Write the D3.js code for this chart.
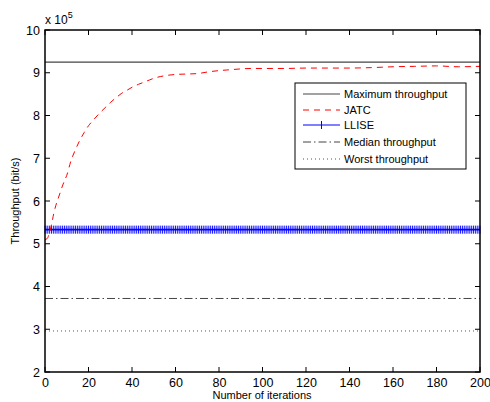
<!DOCTYPE html>
<html><head><meta charset="utf-8">
<script src="https://cdn.jsdelivr.net/npm/d3@7"></script>
<style>body{margin:0;background:#fff}svg{display:block}text{font-family:"Liberation Sans",Arial,sans-serif}</style>
</head><body><svg id="c" width="490" height="402"></svg>
<script>
const xTicks=[0,20,40,60,80,100,120,140,160,180,200];
const yTicks=[2,3,4,5,6,7,8,9,10];
const maxThroughput=9.25;
const llise=5.33;
const medianThroughput=3.72;
const worstThroughput=2.96;
const jatcIter=[0,1,2,3,4,5,6,7,8,9,10,12,14,16,18,20,22,25,28,30,33,35,38,40,43,45,48,50,53,55,58,60,65,70,75,80,85,90,95,100,110,120,130,140,150,160,170,180,190,200];
const jatcVal=[5.1,5.12,5.25,5.45,5.7,5.9,6.05,6.2,6.35,6.48,6.6,6.95,7.2,7.42,7.6,7.76,7.88,8.05,8.2,8.3,8.43,8.51,8.6,8.66,8.73,8.77,8.83,8.87,8.91,8.93,8.95,8.96,8.97,8.98,9.02,9.05,9.07,9.09,9.1,9.1,9.1,9.11,9.11,9.11,9.12,9.14,9.15,9.16,9.14,9.15];
const legendNames=["Maximum throughput","JATC","LLISE","Median throughput","Worst throughput"];

const svg=d3.select("#c");
const L=45,R=480,T=30,B=372;
const x=d3.scaleLinear().domain([0,200]).range([L,R]);
const y=d3.scaleLinear().domain([2,10]).range([B,T]);

// axes
const gx=svg.append("g").attr("transform",`translate(0,${B})`).call(d3.axisBottom(x).tickValues(xTicks).tickSize(0).tickPadding(6));
gx.select(".domain").remove();
gx.selectAll("text").attr("font-size",12.5).attr("fill","#000").attr("font-family","Liberation Sans,Arial");
const gy=svg.append("g").attr("transform",`translate(${L},0)`).call(d3.axisLeft(y).tickValues(yTicks).tickSize(0).tickPadding(5));
gy.select(".domain").remove();
gy.selectAll("text").attr("font-size",12.5).attr("fill","#000").attr("font-family","Liberation Sans,Arial");

// inner ticks
const tk=svg.append("g").attr("stroke","#000").attr("stroke-width",1);
xTicks.forEach(v=>{tk.append("line").attr("x1",x(v)).attr("x2",x(v)).attr("y1",B).attr("y2",B-5);
 tk.append("line").attr("x1",x(v)).attr("x2",x(v)).attr("y1",T).attr("y2",T+5);});
yTicks.forEach(v=>{tk.append("line").attr("y1",y(v)).attr("y2",y(v)).attr("x1",L).attr("x2",L+5);
 tk.append("line").attr("y1",y(v)).attr("y2",y(v)).attr("x1",R).attr("x2",R-5);});

const plot=svg.append("g");
const hline=(v,col,dash,w)=>plot.append("line").attr("x1",x(0)).attr("x2",x(200)).attr("y1",y(v)).attr("y2",y(v)).attr("stroke",col).attr("stroke-width",w).attr("stroke-dasharray",dash);
hline(maxThroughput,"#444",null,1.2);
hline(medianThroughput,"#444","8,3,1.5,3",1);
hline(worstThroughput,"#555","1,3",1);

// LLISE
hline(llise,"#0000ff",null,1.6);
const iters=d3.range(0,201);
plot.append("g").selectAll("line").data(iters).join("line")
 .attr("x1",d=>x(d)).attr("x2",d=>x(d)).attr("y1",y(llise)-4).attr("y2",y(llise)+4)
 .attr("stroke","#0000ff").attr("stroke-width",0.9);
plot.append("rect").attr("x",x(0)).attr("width",x(200)-x(0)).attr("y",y(llise)-4).attr("height",8).attr("fill","#0000ff").attr("opacity",0.15);

// JATC
const line=d3.line().x((d,i)=>x(jatcIter[i])).y(d=>y(d)).curve(d3.curveMonotoneX);
plot.append("path").attr("d",line(jatcVal)).attr("fill","none").attr("stroke","#ff0000").attr("stroke-width",1).attr("stroke-dasharray","6,5");

// frame
svg.append("rect").attr("x",L).attr("y",T).attr("width",R-L).attr("height",B-T).attr("fill","none").attr("stroke","#000").attr("stroke-width",1.5);

// exponent
const ex=svg.append("text").attr("x",45).attr("y",24).attr("font-size",12);
ex.append("tspan").text("x 10");
ex.append("tspan").attr("dy",-6).attr("font-size",9).text("5");

// axis labels
svg.append("text").attr("x",262).attr("y",399).attr("text-anchor","middle").attr("font-size",11).text("Number of iterations");
svg.append("text").attr("transform","translate(19,201) rotate(-90)").attr("text-anchor","middle").attr("font-size",11).text("Throughput (bit/s)");

// legend
const lg=svg.append("g");
lg.append("rect").attr("x",295).attr("y",83).attr("width",171).attr("height",86).attr("fill","#fff").attr("stroke","#000").attr("stroke-width",1);
const rowsY=[94,110,125,142,159];
const styles=[{c:"#444",d:null},{c:"#ff0000",d:"6,5"},{c:"#0000ff",d:null},{c:"#444",d:"8,3,1.5,3"},{c:"#555",d:"1,3"}];
legendNames.forEach((n,i)=>{
 lg.append("line").attr("x1",303).attr("x2",340).attr("y1",rowsY[i]).attr("y2",rowsY[i]).attr("stroke",styles[i].c).attr("stroke-width",1).attr("stroke-dasharray",styles[i].d);
 if(i===2) lg.append("line").attr("x1",321.5).attr("x2",321.5).attr("y1",rowsY[i]-4).attr("y2",rowsY[i]+4).attr("stroke","#0000ff");
 lg.append("text").attr("x",344).attr("y",rowsY[i]+4).attr("font-size",11).text(n);
});
</script></body></html>
